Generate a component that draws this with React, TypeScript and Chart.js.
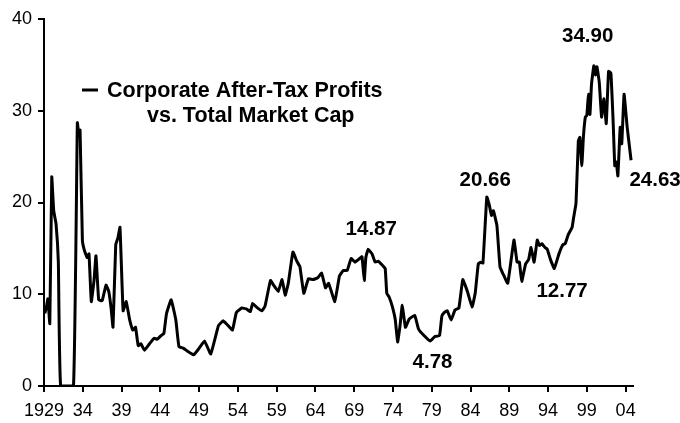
import React, { useEffect, useRef } from 'react';
import { Chart, registerables } from 'chart.js';

Chart.register(...registerables);

// Ratio series (year as decimal, value)
const years = [
  1929.1, 1929.35, 1929.5, 1929.75, 1930.0, 1930.25, 1930.55, 1930.85, 1931.15, 1932.8,
  1933.3, 1933.5, 1933.65, 1933.95, 1934.2, 1934.55, 1934.8, 1935.1, 1935.45, 1935.7,
  1936.05, 1936.5, 1937.0, 1937.35, 1937.65, 1937.9, 1938.25, 1938.55, 1938.8, 1939.2,
  1939.6, 1940.05, 1940.45, 1940.8, 1941.15, 1941.5, 1941.95, 1942.6, 1943.2, 1943.6,
  1944.1, 1944.45, 1944.8, 1945.4, 1946.0, 1946.4, 1947.0, 1947.5, 1948.3, 1948.9,
  1949.7, 1950.5, 1951.5, 1952.1, 1952.6, 1953.3, 1953.8, 1954.5, 1955.1, 1955.6,
  1955.9, 1956.4, 1957.1, 1957.5, 1958.2, 1958.6, 1959.2, 1959.7, 1960.1, 1960.5,
  1961.1, 1961.6, 1962.0, 1962.5, 1963.1, 1963.7, 1964.3, 1964.8, 1965.3, 1965.7,
  1966.5, 1967.1, 1967.6, 1968.1, 1968.6, 1969.1, 1969.7, 1970.0, 1970.3, 1970.5,
  1970.8, 1971.3, 1971.7, 1972.1, 1972.7, 1973.0, 1973.2, 1973.5, 1973.9, 1974.3,
  1974.6, 1974.9, 1975.2, 1975.6, 1976.1, 1976.8, 1977.3, 1978.0, 1978.8, 1979.4,
  1980.0, 1980.3, 1980.6, 1981.0, 1981.5, 1982.0, 1982.5, 1983.0, 1983.6, 1984.2,
  1984.6, 1985.0, 1985.3, 1985.6, 1986.1, 1986.4, 1986.7, 1986.95, 1987.4, 1987.8,
  1988.2, 1988.8, 1989.6, 1990.0, 1990.3, 1990.6, 1991.1, 1991.5, 1991.8, 1992.2,
  1992.6, 1992.9, 1993.2, 1993.6, 1993.9, 1994.3, 1994.8, 1995.4, 1995.9, 1996.2,
  1996.6, 1997.1, 1997.3, 1997.6, 1997.9, 1998.1, 1998.35, 1998.55, 1998.8, 1999.0,
  1999.2, 1999.4, 1999.6, 1999.9, 2000.1, 2000.3, 2000.6, 2000.9, 2001.2, 2001.5,
  2001.8, 2002.1, 2002.4, 2002.6, 2002.8, 2003.0, 2003.3, 2003.5, 2003.8, 2004.2,
  2004.7,
];

const values = [
  7.9, 8.8, 9.5, 6.8, 22.8, 19.1, 17.7, 13.5, 0, 0,
  28.7, 27.3, 27.9, 15.9, 14.8, 14.0, 14.4, 9.2, 11.5, 14.2,
  9.4, 9.3, 11.0, 10.3, 8.5, 6.4, 15.4, 16.2, 17.3, 8.2,
  9.2, 7.2, 6.1, 6.4, 4.4, 4.6, 3.9, 4.6, 5.2, 5.1,
  5.5, 5.7, 7.9, 9.4, 7.2, 4.3, 4.1, 3.8, 3.4, 4.0,
  4.9, 3.5, 6.6, 7.1, 6.7, 6.1, 8.0, 8.5, 8.4, 8.1,
  9.0, 8.6, 8.2, 8.7, 11.5, 11.0, 10.3, 11.6, 9.9, 11.2,
  14.6, 13.6, 13.0, 10.1, 11.7, 11.6, 11.8, 12.3, 10.7, 11.2,
  9.2, 12.0, 12.6, 12.6, 13.9, 13.5, 13.9, 14.1, 11.5, 14.0,
  14.9, 14.4, 13.5, 13.6, 13.1, 12.8, 10.1, 9.7, 8.7, 7.2,
  4.8, 6.5, 8.8, 6.4, 7.3, 7.7, 6.2, 5.5, 4.9, 5.4,
  5.5, 7.6, 8.0, 8.2, 7.2, 8.3, 8.5, 11.6, 10.3, 8.6,
  10.1, 13.3, 13.5, 13.4, 20.6, 19.8, 18.6, 19.1, 17.5, 13.0,
  12.2, 11.2, 15.9, 13.5, 13.5, 11.4, 13.3, 13.8, 15.1, 13.5,
  15.9, 15.3, 15.5, 15.1, 14.9, 13.8, 12.8, 14.4, 15.4, 15.5,
  16.5, 17.3, 18.4, 19.9, 26.7, 27.1, 24.0, 27.1, 29.3, 29.5,
  31.8, 29.6, 32.9, 34.9, 33.9, 34.8, 33.1, 29.3, 31.3, 28.6,
  34.3, 34.1, 28.6, 24.0, 24.4, 22.9, 28.2, 26.4, 31.8, 28.2,
  24.6,
];

const xTickYears = [1929, 1934, 1939, 1944, 1949, 1954, 1959, 1964, 1969, 1974, 1979, 1984, 1989, 1994, 1999, 2004];
const xTickLabels = ['1929', '34', '39', '44', '49', '54', '59', '64', '69', '74', '79', '84', '89', '94', '99', '04'];

const seriesLabel = ['Corporate After-Tax Profits', 'vs. Total Market Cap'];

// Call-out labels placed in data coordinates
const calloutTexts = ['14.87', '4.78', '20.66', '12.77', '34.90', '24.63'];
const calloutYears = [1971.2, 1979.1, 1985.9, 1995.8, 1999.1, 2007.8];
const calloutValues = [17.05, 2.55, 22.4, 10.3, 38.15, 22.4];

const FONT = "'Liberation Sans', Arial, Helvetica, sans-serif";

const overlayPlugin = {
  id: 'overlay',
  afterDraw(chart: any) {
    const ctx = chart.ctx;
    const xs = chart.scales.x;
    const ys = chart.scales.y;
    ctx.save();
    ctx.fillStyle = '#000';
    ctx.textBaseline = 'middle';
    ctx.textAlign = 'center';
    ctx.font = `bold 20.5px ${FONT}`;
    for (let i = 0; i < calloutTexts.length; i++) {
      ctx.fillText(calloutTexts[i], xs.getPixelForValue(calloutYears[i]), ys.getPixelForValue(calloutValues[i]));
    }
    // legend
    ctx.strokeStyle = '#000';
    ctx.lineWidth = 3;
    ctx.beginPath();
    ctx.moveTo(82, 90);
    ctx.lineTo(98, 90);
    ctx.stroke();
    ctx.textAlign = 'left';
    ctx.font = `bold 21.5px ${FONT}`;
    ctx.fillText(seriesLabel[0], 107, 91);
    ctx.fillText(seriesLabel[1], 147, 116);
    ctx.restore();
  },
};

export default function App() {
  const ref = useRef<HTMLCanvasElement | null>(null);
  useEffect(() => {
    if (!ref.current) return;
    const data = years.map((y, i) => ({ x: y, y: values[i] }));
    const chart = new Chart(ref.current, {
      type: 'line',
      data: {
        datasets: [
          {
            label: seriesLabel.join(' '),
            data,
            borderColor: '#000',
            borderWidth: 3,
            pointRadius: 0,
            tension: 0.1,
            borderJoinStyle: 'round',
            fill: false,
          },
        ],
      },
      options: {
        animation: false,
        responsive: false,
        devicePixelRatio: 1,
        layout: { padding: { top: 19, right: 47, bottom: 0, left: 0 } },
        plugins: { legend: { display: false }, tooltip: { enabled: false } },
        scales: {
          x: {
            type: 'linear',
            min: 1929,
            max: 2004.95,
            afterBuildTicks: (scale: any) => {
              scale.ticks = xTickYears.map((v) => ({ value: v }));
            },
            afterFit: (scale: any) => {
              scale.height = 37;
            },
            ticks: {
              autoSkip: false,
              maxRotation: 0,
              padding: 8,
              color: '#000',
              font: { family: FONT, size: 18 },
              callback: (_v: any, i: number) => xTickLabels[i],
            },
            grid: { drawOnChartArea: false, drawTicks: true, tickLength: 6, color: '#000', lineWidth: 2 },
            border: { display: true, color: '#000', width: 2 },
          },
          y: {
            min: 0,
            max: 40,
            afterFit: (scale: any) => {
              scale.width = 44;
            },
            ticks: {
              stepSize: 10,
              padding: 6,
              color: '#000',
              font: { family: FONT, size: 18 },
            },
            grid: { drawOnChartArea: false, drawTicks: true, tickLength: 6, color: '#000', lineWidth: 2 },
            border: { display: true, color: '#000', width: 2 },
          },
        },
      },
      plugins: [overlayPlugin],
    });
    return () => chart.destroy();
  }, []);
  return (
    <div style={{ position: 'absolute', left: 0, top: 0, width: 680, height: 423, background: '#fff' }}>
      <canvas ref={ref} width={680} height={423} style={{ width: 680, height: 423 }} />
    </div>
  );
}
